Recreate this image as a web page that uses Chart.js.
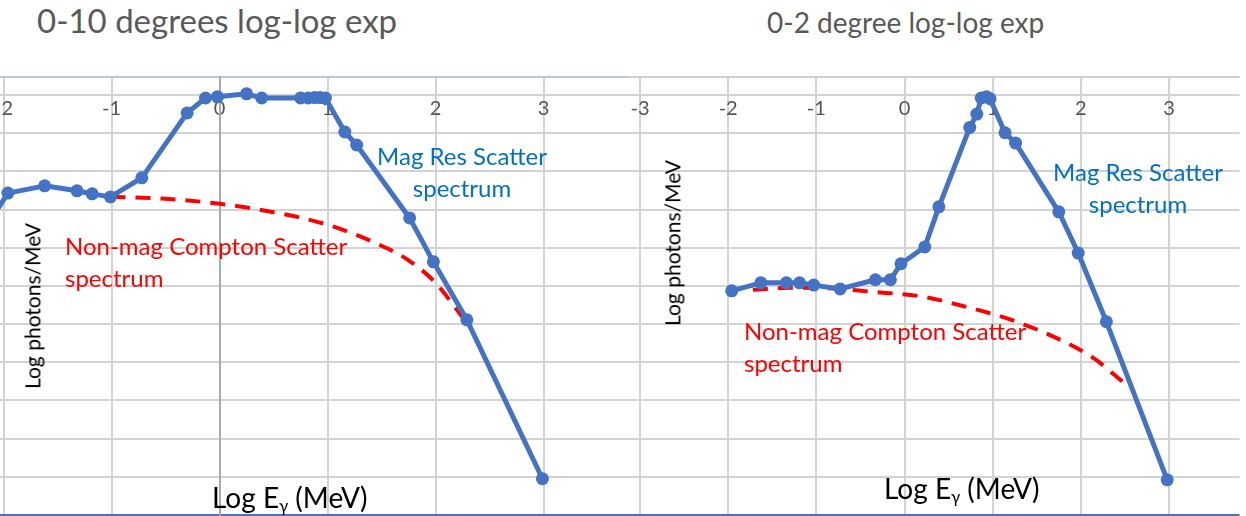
<!DOCTYPE html>
<html>
<head>
<meta charset="utf-8">
<script src="https://cdn.jsdelivr.net/npm/chart.js@4.4.1/dist/chart.umd.min.js"></script>
<style>
  html, body { margin: 0; padding: 0; width: 1246px; height: 516px; overflow: hidden; background: #fff; font-family: Lato, sans-serif; }
  canvas { position: absolute; }
  .txt { position: absolute; white-space: nowrap; }
  .title { color: #595959; line-height: 1; }
  .axis-y { color: #000; font-size: 21px; line-height: 1.2; transform: translate(-50%, -50%) rotate(-90deg); }
  .axis-x { color: #000; font-size: 28px; line-height: 1; }
  .axis-x sub { font-size: 60%; vertical-align: -0.25em; line-height: 0; }
  .mag { color: #0070C0; font-size: 24px; line-height: 32px; text-align: center; width: 200px; }
  .non { color: #FF0000; font-size: 24px; line-height: 32px; }
</style>
</head>
<body>
<canvas id="wide" width="665" height="458" style="left:-28px; top:67px;"></canvas>
<canvas id="narrow" width="629" height="458" style="left:617px; top:67px;"></canvas>

<div class="txt title" style="left:37px; top:4px; font-size:33px;">0-10 degrees log-log exp</div>
<div class="txt title" style="left:767px; top:8px; font-size:28px;">0-2 degree log-log exp</div>

<div class="txt axis-y" style="left:32px; top:306px;">Log photons/MeV</div>
<div class="txt axis-y" style="left:672px; top:243px;">Log photons/MeV</div>

<div class="txt axis-x" style="left:212px; top:483px;">Log E<sub>γ</sub> (MeV)</div>
<div class="txt axis-x" style="left:884px; top:474px;">Log E<sub>γ</sub> (MeV)</div>

<div class="txt mag" style="left:362px; top:140px;">Mag Res Scatter<br>spectrum</div>
<div class="txt mag" style="left:1038px; top:156px;">Mag Res Scatter<br>spectrum</div>

<div class="txt non" style="left:65px; top:230px;">Non-mag Compton Scatter<br>spectrum</div>
<div class="txt non" style="left:744px; top:315px;">Non-mag Compton Scatter<br>spectrum</div>

<script>
// 0-10 degree spectrum: log10 energy (MeV) vs log photons/MeV
const wideEnergy = [-2.15, -1.96, -1.62, -1.32, -1.18, -1.01, -0.72, -0.30, -0.13, -0.02, 0.25, 0.39,
                    0.75, 0.82, 0.88, 0.93, 0.98, 1.16, 1.27, 1.76, 1.98, 2.29, 2.99];
const wideMagRes = [-3.40, -2.57, -2.38, -2.51, -2.59, -2.67, -2.17, -0.47, -0.08, -0.05, 0.03, -0.08,
                    -0.08, -0.08, -0.07, -0.07, -0.08, -0.97, -1.31, -3.22, -4.37, -5.89, -10.05];
const wideComptonEnergy = [-1.01, -0.5, 0, 0.5, 1.0, 1.5, 1.75, 2.0, 2.25];
const wideCompton       = [-2.67, -2.72, -2.85, -3.07, -3.40, -3.95, -4.33, -4.92, -5.82];

// 0-2 degree spectrum
const narrowEnergy = [-1.96, -1.63, -1.34, -1.19, -1.03, -0.73, -0.33, -0.16, -0.04, 0.23, 0.39,
                      0.74, 0.82, 0.87, 0.93, 0.97, 1.14, 1.26, 1.75, 1.97, 2.29, 2.98];
const narrowMagRes = [-5.13, -4.92, -4.92, -4.92, -4.98, -5.08, -4.84, -4.84, -4.42, -3.98, -2.93,
                      -0.85, -0.50, -0.08, -0.05, -0.10, -0.99, -1.26, -3.06, -4.14, -5.94, -10.08];
const narrowComptonEnergy = [-1.72, -1.3, -0.8, -0.4, 0.2, 0.7, 1.25, 1.8, 2.15, 2.47];
const narrowCompton       = [-5.10, -5.05, -5.07, -5.15, -5.28, -5.55, -5.92, -6.45, -6.90, -7.50];

// x-axis ticks
const wideTickValues = [-2, -1, 0, 1, 2, 3];
const wideTickLabels = ['-2', '-1', '0', '1', '2', '3'];
const narrowTickValues = [-3, -2, -1, 0, 1, 2, 3];
const narrowTickLabels = ['-3', '-2', '-1', '0', '1', '2', '3'];

const BLUE = '#4472C4';
const RED = '#FF0000';
const GRID = '#D3D3D3';
const Y_MIN = -11;
const Y_MAX = 0.47;

function points(xs, ys) {
  return xs.map((x, i) => ({ x: x, y: ys[i] }));
}

function makeChart(id, cfg) {
  return new Chart(document.getElementById(id), {
    type: 'line',
    data: {
      datasets: [
        {
          label: 'Mag Res Scatter spectrum',
          data: points(cfg.energy, cfg.magRes),
          borderColor: BLUE,
          backgroundColor: BLUE,
          borderWidth: 5,
          borderJoinStyle: 'round',
          pointRadius: 6.5,
          pointBackgroundColor: BLUE,
          pointBorderColor: BLUE,
          pointBorderWidth: 0,
          tension: 0
        },
        {
          label: 'Non-mag Compton Scatter spectrum',
          data: points(cfg.comptonEnergy, cfg.compton),
          borderColor: RED,
          borderWidth: 4,
          borderDash: [15, 10],
          pointRadius: 0,
          cubicInterpolationMode: 'monotone',
          fill: false
        }
      ]
    },
    options: {
      responsive: false,
      animation: false,
      devicePixelRatio: 1,
      layout: { padding: cfg.padding },
      plugins: { legend: { display: false }, tooltip: { enabled: false }, title: { display: false } },
      scales: {
        x: {
          type: 'linear',
          min: cfg.xMin,
          max: cfg.xMax,
          position: { y: 0 },
          afterBuildTicks: (scale) => { scale.ticks = cfg.tickValues.map(v => ({ value: v })); },
          ticks: {
            autoSkip: false,
            maxRotation: 0,
            padding: 2,
            color: '#555555',
            font: { family: 'Lato', size: 20 },
            callback: (value, index) => cfg.tickLabels[index]
          },
          grid: { color: GRID, lineWidth: 2, drawTicks: false },
          border: { display: false }
        },
        y: {
          type: 'linear',
          min: Y_MIN,
          max: Y_MAX,
          position: { x: 0 },
          ticks: { display: false, stepSize: 1 },
          grid: {
            drawTicks: false,
            lineWidth: 2,
            color: (ctx) => {
              const v = ctx.tick ? ctx.tick.value : 0;
              if (v === Y_MIN) return BLUE;
              if (v === Y_MAX) return cfg.topColor;
              return GRID;
            }
          },
          border: { display: cfg.axisLine, color: '#ABABAB', width: 2 }
        }
      }
    }
  });
}

function draw() {
  makeChart('wide', {
    energy: wideEnergy, magRes: wideMagRes,
    comptonEnergy: wideComptonEnergy, compton: wideCompton,
    tickValues: wideTickValues, tickLabels: wideTickLabels,
    xMin: -2.2, xMax: 3.773,
    padding: { left: 10, right: 10, top: 10, bottom: 10 },
    topColor: '#B9C6DC', axisLine: true
  });
  makeChart('narrow', {
    energy: narrowEnergy, magRes: narrowMagRes,
    comptonEnergy: narrowComptonEnergy, compton: narrowCompton,
    tickValues: narrowTickValues, tickLabels: narrowTickLabels,
    xMin: -3.148, xMax: 3.80,
    padding: { left: 10, right: 0, top: 10, bottom: 10 },
    topColor: '#CFCFCF', axisLine: false
  });
}

if (document.fonts && document.fonts.load) {
  document.fonts.load('20px Lato').then(draw, draw);
} else {
  draw();
}
</script>
</body>
</html>
